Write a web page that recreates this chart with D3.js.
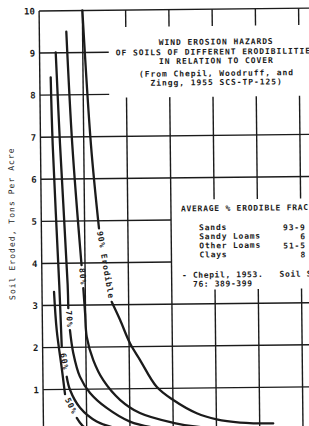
<!DOCTYPE html>
<html>
<head>
<meta charset="utf-8">
<script src="https://cdn.jsdelivr.net/npm/d3@7"></script>
<style>
  body { margin: 0; background: #fff; }
  svg { display: block; background: #fff; }
  text { font-family: "DejaVu Sans Mono", monospace; fill: #1b1b1b; }
</style>
</head>
<body>
<svg id="chart" width="309" height="426"></svg>
<script>
// Soil eroded (tons per acre) vs. cover, one curve per erodible fraction.
// x values are in grid divisions (the x axis is cut off in the scan)
const yTicks = [1, 2, 3, 4, 5, 6, 7, 8, 9, 10];
const xGrid = [0, 1, 2, 3, 4, 5, 6];
const curveNames = ["90% Erodible", "80%", "70%", "60%", "50%"];

// null marks the gap where the curve label sits
const curve90 = [[1.0, 10.0], [1.167, 6.80], [1.332, 4.82], null, [1.607, 3.07], [1.796, 2.64], [2.021, 2.08], [2.25, 1.68], [2.627, 1.04], [3.008, 0.72], [3.547, 0.40], [4.007, 0.25], [4.546, 0.17], [5.313, 0.14]];
const curve80 = [[0.624, 9.50], [0.735, 6.81], [0.92, 3.95], null, [0.955, 3.40], [0.99, 2.81], [1.022, 2.25], [1.168, 1.69], [1.394, 1.21], [1.776, 0.74], [2.233, 0.42], [3.0, 0.18], [3.54, 0.08], [4.0, 0.05]];
const curve70 = [[0.374, 9.01], [0.451, 6.83], [0.594, 3.48], [0.603, 2.93], null, [0.636, 2.41], [0.708, 1.86], [0.855, 1.30], [1.085, 0.91], [1.466, 0.55], [2.0, 0.22], [2.6, 0.06]];
const curve60 = [[0.252, 8.42], [0.282, 6.81], [0.40, 3.48], [0.442, 2.02], null, [0.55, 1.30], [0.622, 0.99], [0.851, 0.56], [1.232, 0.23], [1.7, 0.06]];
const curve50 = [[0.277, 3.32], [0.330, 2.41], [0.44, 1.48], [0.506, 0.89], null, [0.772, 0.32], [0.913, 0.126], [1.1, 0.03]];

const titleLines = ["WIND EROSION HAZARDS", "OF SOILS OF DIFFERENT ERODIBILITIES", "IN RELATION TO COVER", "(From Chepil, Woodruff, and", "Zingg, 1955 SCS-TP-125)"];
const legendTitle = "AVERAGE % ERODIBLE FRACTIONS";
const soilTypes = ["Sands", "Sandy Loams", "Other Loams", "Clays"];
const soilFractions = ["93-9", "6", "51-5", "8"];
const sourceLines = ["- Chepil, 1953.   Soil Sci.", "  76: 389-399"];
const yLabel = "Soil Eroded, Tons Per Acre";

const ink = "#1b1b1b";

const svg = d3.select("#chart");
svg.append("rect").attr("width", 309).attr("height", 426).attr("fill", "#fff");

// the scan is tilted a little, so everything sits in a slightly rotated group
const chart = svg.append("g")
  .attr("transform", "rotate(-0.6, 170, 220)");

const x = d3.scaleLinear().domain([0, 6]).range([41.3, 300.8]);
const y = d3.scaleLinear().domain([0, 10]).range([430.4, 9.6]);

// horizontal grid: some lines stop short at the title and legend boxes
const hEnd = v => (v === 8 || v === 9) ? 1.6 : (v === 4 || v === 5) ? 3 : 6.6;
chart.append("g")
  .selectAll("line")
  .data(yTicks)
  .join("line")
  .attr("x1", x(0))
  .attr("x2", d => x(hEnd(d)))
  .attr("y1", d => y(d))
  .attr("y2", d => y(d))
  .attr("stroke", ink)
  .attr("stroke-width", 1.4);

// vertical grid, broken where the boxes are
const vSegments = d => {
  if (d <= 1) return [[-0.3, 10]];
  if (d <= 3) return [[9.6, 10], [-0.3, 7.92]];
  return [[9.6, 10], [5.48, 7.92], [-0.3, 3.34]];
};
chart.append("g")
  .selectAll("line")
  .data(xGrid.flatMap(d => vSegments(d).map(s => ({ x: d, y0: s[0], y1: s[1] }))))
  .join("line")
  .attr("x1", d => x(d.x))
  .attr("x2", d => x(d.x))
  .attr("y1", d => y(d.y0))
  .attr("y2", d => y(d.y1))
  .attr("stroke", ink)
  .attr("stroke-width", 1.4);

// y axis tick labels
const yAxis = d3.axisLeft(y)
  .tickValues(yTicks)
  .tickSize(0)
  .tickPadding(4.3);

const yAxisG = chart.append("g")
  .attr("transform", `translate(${ x(0) }, 0)`)
  .call(yAxis);
yAxisG.select(".domain").remove();
yAxisG.selectAll("text")
  .attr("font-family", "DejaVu Sans Mono")
  .attr("font-size", 9)
  .attr("font-weight", "bold")
  .attr("fill", ink);

// y axis title
chart.append("text")
  .attr("transform", `translate(12, ${ (y(0) + y(10)) / 2 + 2 }) rotate(-90)`)
  .attr("text-anchor", "middle")
  .attr("dominant-baseline", "central")
  .attr("font-size", 8)
  .attr("letter-spacing", 1.05)
  .text(yLabel);

// the curves
const line = d3.line()
  .defined(d => d !== null)
  .x(d => x(d[0]))
  .y(d => y(d[1]))
  .curve(d3.curveCatmullRom.alpha(0.5));

const curves = [curve90, curve80, curve70, curve60, curve50];

chart.append("g")
  .selectAll("path")
  .data(curves)
  .join("path")
  .attr("d", line)
  .attr("fill", "none")
  .attr("stroke", ink)
  .attr("stroke-width", 2.3)
  .attr("stroke-linecap", "round");

// labels sit in the gaps, turned along the curve
curves.forEach((c, i) => {
  const gap = c.indexOf(null);
  const a = c[gap - 1], b = c[gap + 1];
  const ax = x(a[0]), ay = y(a[1]), bx = x(b[0]), by = y(b[1]);
  const angle = Math.atan2(by - ay, bx - ax) * 180 / Math.PI;
  chart.append("text")
    .attr("transform", `translate(${ (ax + bx) / 2 }, ${ (ay + by) / 2 }) rotate(${ angle })`)
    .attr("text-anchor", "middle")
    .attr("dominant-baseline", "central")
    .attr("font-size", 8)
    .attr("font-weight", "bold")
    .attr("letter-spacing", 0.9)
    .text(curveNames[i]);
});

// title block
const titleY = [45, 55, 64, 76.5, 85.5];
chart.append("g")
  .selectAll("text")
  .data(titleLines)
  .join("text")
  .attr("x", 218)
  .attr("y", (d, i) => titleY[i])
  .attr("text-anchor", "middle")
  .attr("font-size", 8)
  .attr("font-weight", "bold")
  .attr("letter-spacing", 0.93)
  .text(d => d);

// legend box
chart.append("text")
  .attr("x", 181)
  .attr("y", 211.5)
  .attr("font-size", 8)
  .attr("font-weight", "bold")
  .attr("letter-spacing", 0.75)
  .text(legendTitle);

const rowY = [230.5, 239.5, 248.7, 257.8];
chart.append("g")
  .selectAll("text")
  .data(soilTypes)
  .join("text")
  .attr("x", 199)
  .attr("y", (d, i) => rowY[i])
  .attr("font-size", 8)
  .attr("font-weight", "bold")
  .attr("letter-spacing", 0.8)
  .text(d => d);

chart.append("g")
  .selectAll("text")
  .data(soilFractions)
  .join("text")
  .attr("x", d => d.length > 2 ? 283 : 300)
  .attr("y", (d, i) => rowY[i] + 1)
  .attr("font-size", 8)
  .attr("font-weight", "bold")
  .attr("letter-spacing", 0.8)
  .text(d => d);

chart.append("g")
  .selectAll("text")
  .data(sourceLines)
  .join("text")
  .attr("x", 181.5)
  .attr("y", (d, i) => 278 + i * 9)
  .attr("font-size", 8)
  .attr("font-weight", "bold")
  .attr("letter-spacing", 0.6)
  .style("white-space", "pre")
  .text(d => d);
</script>
</body>
</html>
